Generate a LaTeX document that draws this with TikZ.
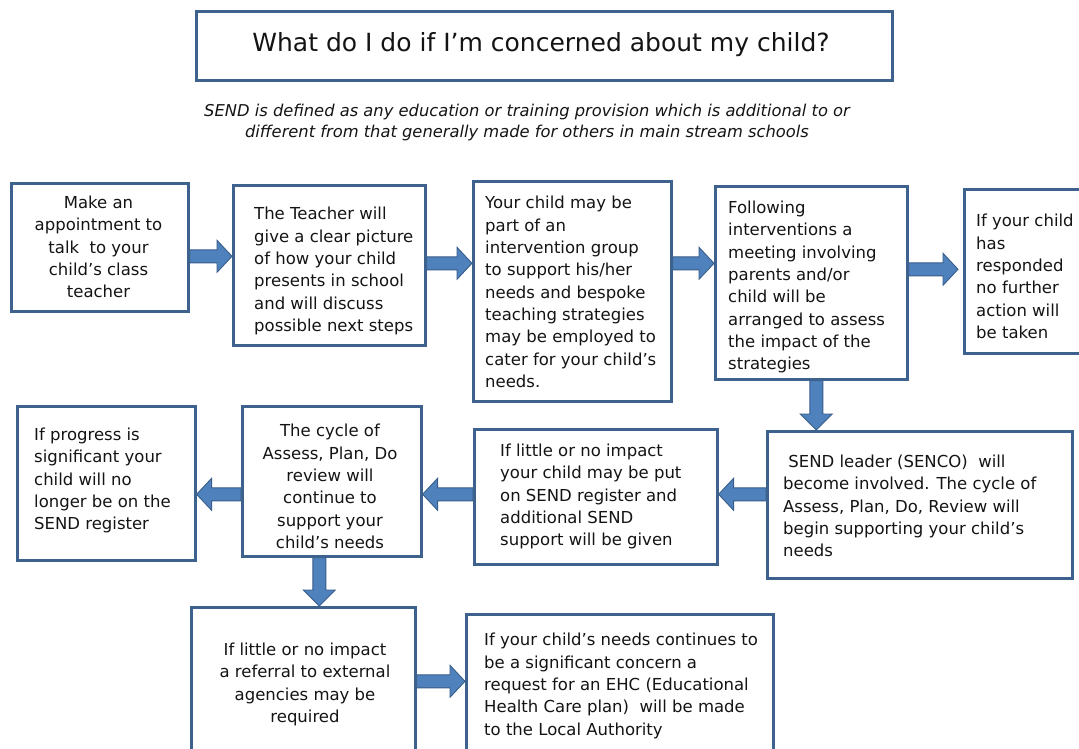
\documentclass[tikz,border=0pt]{standalone}
\usepackage{fontspec}
\setmainfont{DejaVu Sans}
\usetikzlibrary{calc}
\definecolor{boxline}{RGB}{62,98,142}
\definecolor{arrowfill}{RGB}{79,129,189}
\definecolor{arrowline}{RGB}{56,93,138}
\pgfdeclarelayer{bg}
\pgfsetlayers{bg,main}
\tikzset{
  box/.style={draw=boxline, line width=2.6pt, fill=white, rectangle, inner sep=0pt, anchor=north west},
  txt/.style={font=\fontsize{16.5}{22.3}\selectfont, align=left, inner sep=0pt, text=black!92},
  ctxt/.style={txt, align=center},
  blk/.style={fill=arrowfill, draw=arrowline, line width=0.9pt, line join=miter},
  rarrow/.style={to path={let \p1=(\tikztostart), \p2=(\tikztotarget) in
    (\x1,\y1+6.5pt) -- (\x2-15pt,\y1+6.5pt) -- (\x2-15pt,\y1+16pt) -- (\x2,\y1)
    -- (\x2-15pt,\y1-16pt) -- (\x2-15pt,\y1-6.5pt) -- (\x1,\y1-6.5pt) -- cycle}},
  larrow/.style={to path={let \p1=(\tikztostart), \p2=(\tikztotarget) in
    (\x1,\y1+6.5pt) -- (\x2+15pt,\y1+6.5pt) -- (\x2+15pt,\y1+16pt) -- (\x2,\y1)
    -- (\x2+15pt,\y1-16pt) -- (\x2+15pt,\y1-6.5pt) -- (\x1,\y1-6.5pt) -- cycle}},
  darrow/.style={to path={let \p1=(\tikztostart), \p2=(\tikztotarget) in
    (\x1-6.5pt,\y1) -- (\x1-6.5pt,\y2+16pt) -- (\x1-16pt,\y2+16pt) -- (\x1,\y2)
    -- (\x1+16pt,\y2+16pt) -- (\x1+6.5pt,\y2+16pt) -- (\x1+6.5pt,\y1) -- cycle}},
}
\begin{document}
\begin{tikzpicture}[x=1pt,y=-1pt]
\useasboundingbox (0,0) rectangle (1079,749);
\begin{pgfonlayer}{bg}
\fill[white] (0,0) rectangle (1079,749);
\end{pgfonlayer}
\clip (0,0) rectangle (1079,749);

% title
\node[box, minimum width=696pt, minimum height=69pt] (title) at (195,10) {};
\node[inner sep=0pt, font=\fontsize{25}{30}\selectfont, text=black!92] (titletxt) at (541,45) {What do I do if I’m concerned about my child?};
\node[inner sep=0pt, align=center, font=\fontsize{16.3}{21}\selectfont\itshape, text=black!92] (sub) at (527,122.5)
  {SEND is defined as any education or training provision which is additional to or\\different from that generally made for others in main stream schools};

% boxes
\node[box, minimum width=177pt, minimum height=128pt] (b1) at (10,182) {};
\node[box, minimum width=192pt, minimum height=160pt] (b2) at (232,184) {};
\node[box, minimum width=198pt, minimum height=220pt] (b3) at (472,180) {};
\node[box, minimum width=192pt, minimum height=193pt] (b4) at (714,185) {};
\node[box, minimum width=127pt, minimum height=164pt] (b5) at (963,188) {};
\node[box, minimum width=305pt, minimum height=147pt] (b6) at (766,430) {};
\node[box, minimum width=243pt, minimum height=135pt] (b7) at (473,428) {};
\node[box, minimum width=179pt, minimum height=150pt] (b8) at (241,405) {};
\node[box, minimum width=178pt, minimum height=154pt] (b9) at (16,405) {};
\node[box, minimum width=224pt, minimum height=159pt] (b10) at (190,606) {};
\node[box, minimum width=307pt, minimum height=152pt] (b11) at (465,613) {};

% texts
\node[ctxt] (t1) at (98.5,247) {Make an\\appointment to\\talk\ \ to your\\child’s class\\teacher};
\node[txt, anchor=west] (t2) at (254,271) {The Teacher will\\give a clear picture\\of how your child\\presents in school\\and will discuss\\possible next steps};
\node[txt, anchor=west] (t3) at (485,292) {Your child may be\\part of an\\intervention group\\to support his/her\\needs and bespoke\\teaching strategies\\may be employed to\\cater for your child’s\\needs.};
\node[txt, anchor=west] (t4) at (728,287) {Following\\interventions a\\meeting involving\\parents and/or\\child will be\\arranged to assess\\the impact of the\\strategies};
\node[txt, anchor=west] (t5) at (976,276.5) {If your child\\has\\responded\\no further\\action will\\be taken};
\node[txt, anchor=west] (t6) at (783,506) {\ SEND leader (SENCO)\ \ will\\become involved. The cycle of\\Assess, Plan, Do, Review will\\begin supporting your child’s\\needs};
\node[txt, anchor=west] (t7) at (500,496.5) {If little or no impact\\your child may be put\\on SEND register and\\additional SEND\\support will be given};
\node[ctxt] (t8) at (330,486.5) {The cycle of\\Assess, Plan, Do\\review will\\continue to\\support your\\child’s needs};
\node[txt, anchor=west] (t9) at (34,480.5) {If progress is\\significant your\\child will no\\longer be on the\\SEND register};
\node[ctxt] (t10) at (305,684.5) {If little or no impact\\a referral to external\\agencies may be\\required};
\node[txt, anchor=west] (t11) at (484,686) {If your child’s needs continues to\\be a significant concern a\\request for an EHC (Educational\\Health Care plan)\ \ will be made\\to the Local Authority};

% arrows
\begin{pgfonlayer}{bg}
\path[blk] ([yshift=-9pt]b1.east) to[rarrow] (b2.west);
\path[blk] ([yshift=2pt]b2.east) to[rarrow] (b3.west);
\path[blk] ([yshift=28pt]b3.east) to[rarrow] (b4.west);
\path[blk] ([yshift=13.5pt]b4.east) to[rarrow] ([xshift=-5pt]b5.west);
\path[blk] ([xshift=5pt]b4.south) to[darrow] (b6.north);
\path[blk] ([yshift=10.5pt]b6.west) to[larrow] (b7.east);
\path[blk] ([yshift=2.5pt]b7.west) to[larrow] (b8.east);
\path[blk] ([yshift=-13pt]b8.west) to[larrow] (b9.east);
\path[blk] ([xshift=-12.5pt]b8.south) to[darrow] (b10.north);
\path[blk] ([yshift=5.5pt]b10.east) to[rarrow] (b11.west);
\end{pgfonlayer}
\end{tikzpicture}
\end{document}
